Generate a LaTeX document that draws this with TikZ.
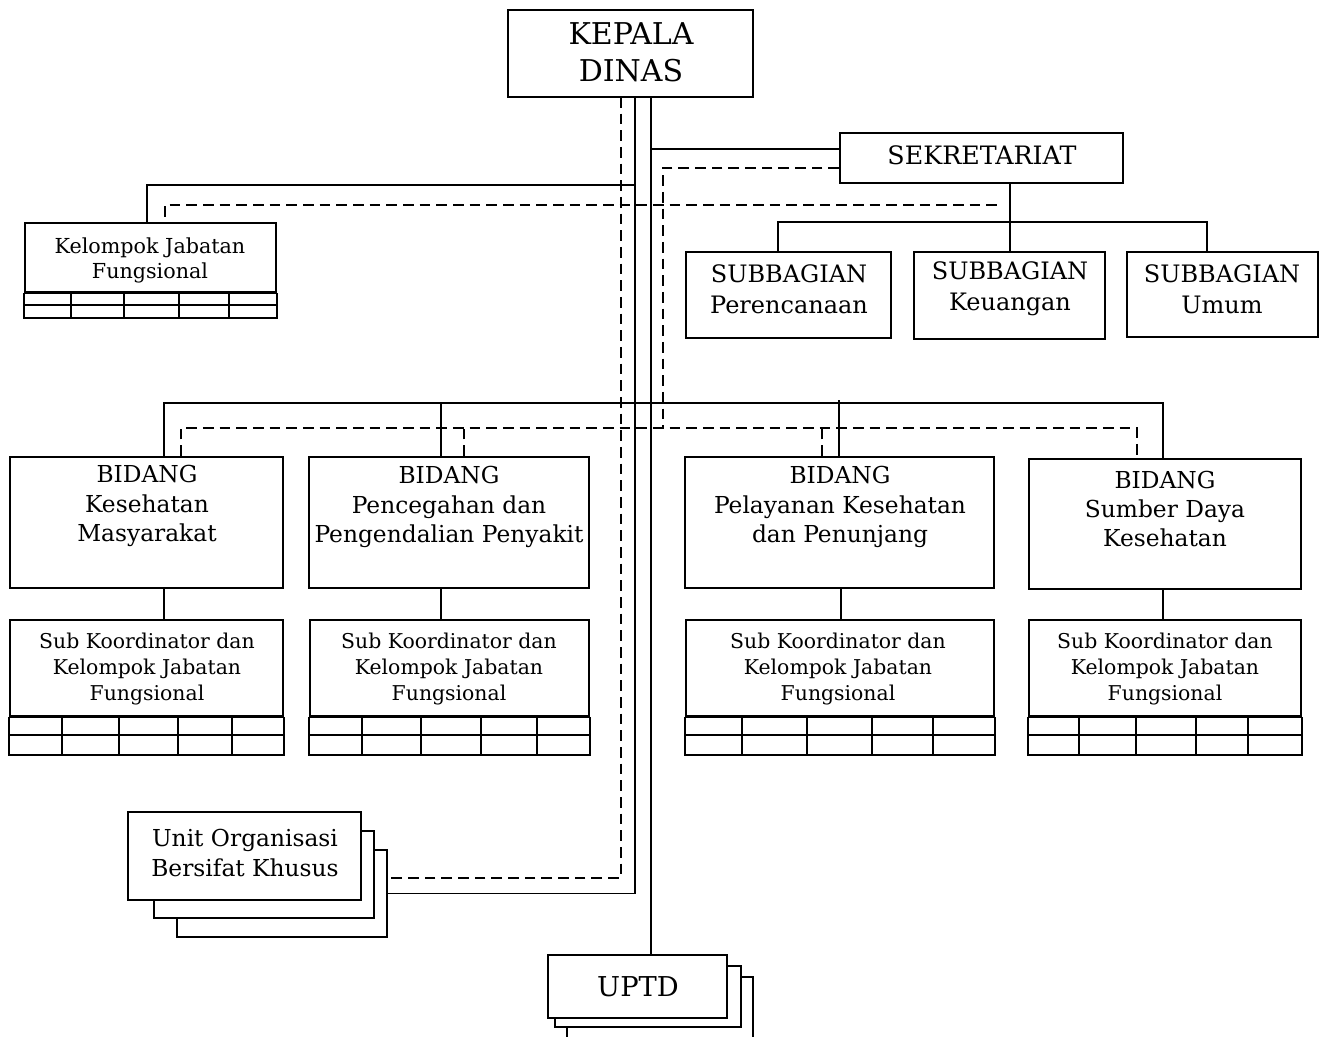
\documentclass[tikz,border=0pt]{standalone}
\usepackage{fontspec}
\setmainfont{DejaVu Serif}
\usetikzlibrary{fit,positioning}
\tikzset{
  box/.style={draw,line width=1.4pt,inner sep=0pt},
  back/.style={box,fill=white},
  lbl/.style={align=center,inner sep=0pt},
  link/.style={line width=1.2pt},
  coord/.style={line width=1.2pt,dash pattern=on 8pt off 4.5pt},
  gridln/.style={line width=1.2pt}
}
\newcommand{\fs}[2]{\fontsize{#1}{#2}\selectfont}
% grid under a jabatan fungsional box: node, middle y, bottom y, columns
\newcommand{\jfgrid}[4]{%
  \draw[line width=2pt] (#1.south west) -- (#1.south east);
  \draw[gridln] (#1.south west) -- (#1.south west |- 0,#3) -- (#1.south east |- 0,#3) -- (#1.south east);
  \draw[gridln] (#1.west |- 0,#2) -- (#1.east |- 0,#2);
  \foreach \gx in {#4} \draw[gridln] (#1.south -| \gx,0) -- (\gx,#3);
}
\begin{document}
\begin{tikzpicture}[x=0.75pt,y=-0.75pt]
  \useasboundingbox (0,0) rectangle (1325,1037);
  \clip (0,0) rectangle (1325,1037);

  % boxes
  \node[box,fit={(508,10) (753,97)}] (kepala) {};
  \node[box,fit={(840,133) (1123,183)}] (sek) {};
  \node[box,fit={(25,223) (276,292)}] (kjf) {};
  \node[box,fit={(686,252) (891,338)}] (sb1) {};
  \node[box,fit={(914,252) (1105,339)}] (sb2) {};
  \node[box,fit={(1127,252) (1318,337)}] (sb3) {};
  \node[box,fit={(10,457) (283,588)}] (b1) {};
  \node[box,fit={(309,457) (589,588)}] (b2) {};
  \node[box,fit={(685,457) (994,588)}] (b3) {};
  \node[box,fit={(1029,459) (1301,589)}] (b4) {};
  \node[box,fit={(10,620) (283,716)}] (sk1) {};
  \node[box,fit={(310,620) (589,716)}] (sk2) {};
  \node[box,fit={(686,620) (994,716)}] (sk3) {};
  \node[box,fit={(1029,620) (1301,716)}] (sk4) {};
  \node[back,fit={(177,850) (387,937)}] (unit3) {};
  \node[back,fit={(154,831) (374,918)}] (unit2) {};
  \node[back,fit={(128,812) (361,900)}] (unit) {};
  \node[back,fit={(567,977) (753,1060)}] (uptd3) {};
  \node[back,fit={(555,966) (741,1027)}] (uptd2) {};
  \node[back,fit={(548,955) (727,1018)}] (uptd) {};

  \jfgrid{kjf}{305}{318}{71,124,179,229}
  \jfgrid{sk1}{735}{755}{62,119,178,232}
  \jfgrid{sk2}{735}{755}{362,421,481,537}
  \jfgrid{sk3}{735}{755}{742,807,872,933}
  \jfgrid{sk4}{735}{755}{1079,1136,1196,1248}

  % texts
  \node[lbl,font=\fs{22.5}{28}] (kepalat) at (631,52) {KEPALA\\DINAS};
  \node[lbl,font=\fs{19}{22}] (sekt) at (982,155) {SEKRETARIAT};
  \node[lbl,font=\fs{15.5}{18.8}] (kjft) at (150,260) {Kelompok Jabatan\\Fungsional};
  \node[lbl,font=\fs{18}{23}] (sb1t) at (789,289) {SUBBAGIAN\\Perencanaan};
  \node[lbl,font=\fs{18}{23}] (sb2t) at (1010,289) {SUBBAGIAN\\Keuangan};
  \node[lbl,font=\fs{18}{23}] (sb3t) at (1222,289) {SUBBAGIAN\\Umum};
  \node[lbl,font=\fs{17.5}{22}] (b1t) at (147,506) {BIDANG\\Kesehatan\\Masyarakat};
  \node[lbl,font=\fs{17.5}{22}] (b2t) at (449,507) {BIDANG\\Pencegahan dan\\Pengendalian Penyakit};
  \node[lbl,font=\fs{17.5}{22}] (b3t) at (840,507) {BIDANG\\Pelayanan Kesehatan\\dan Penunjang};
  \node[lbl,font=\fs{17.5}{22}] (b4t) at (1165,509) {BIDANG\\Sumber Daya\\Kesehatan};
  \foreach \k/\cx in {1/147,2/449,3/838,4/1165}
    \node[lbl,font=\fs{15.3}{19.5}] (sk\k t) at (\cx,669) {Sub Koordinator dan\\Kelompok Jabatan\\Fungsional};
  \node[lbl,font=\fs{17.5}{23}] (unitt) at (245,853) {Unit Organisasi\\Bersifat Khusus};
  \node[lbl,font=\fs{20.5}{22}] (uptdt) at (638,987) {UPTD};

  % garis komando
  \coordinate (trunkL) at (635,97);
  \coordinate (trunkR) at (651,97);
  \coordinate (sekbus) at (1010,222);
  \coordinate (busL) at (164,403);
  \coordinate (busR) at (1163,403);
  \draw[link] (trunkL) |- (unit3.east);
  \draw[link] (trunkL |- 0,185) -| (kjf.north -| 147,0);
  \draw[link] (trunkR) -- (uptd.north -| trunkR);
  \draw[link] (trunkR |- 0,149) -- (sek.west |- 0,149);
  \draw[link] (sek.south -| sekbus) -- (sekbus);
  \draw[link] (sb1.north -| 778,0) |- (sekbus) -| (sb3.north -| 1207,0);
  \draw[link] (sekbus) -- (sb2.north -| sekbus);
  \draw[link] (b1.north -| busL) -- (busL) -- (busR) -- (b4.north -| busR);
  \draw[link] (b2.north -| 441,0) -- (441,403);
  \draw[link] (b3.north -| 839,0) -- (839,400);
  \foreach \k/\lx in {1/164,2/441,3/841,4/1163}
    \draw[link] (b\k.south -| \lx,0) -- (sk\k.north -| \lx,0);

  % garis koordinasi
  \coordinate (dashL) at (621,97);
  \coordinate (dashR) at (663,428);
  \coordinate (kjfd) at (165,217);
  \coordinate (sekd) at (1000,205);
  \draw[coord] (dashL) |- (unit3.east |- 0,878);
  \draw[coord] (sek.west |- 0,168) -| (dashR);
  \draw[coord] (kjfd) |- (sekd);
  \draw[coord] (b1.north -| 181,0) |- (1137,428) -- (b4.north -| 1137,0);
  \draw[coord] (b2.north -| 464,0) -- (464,428);
  \draw[coord] (b3.north -| 822,0) -- (822,428);
\end{tikzpicture}
\end{document}
